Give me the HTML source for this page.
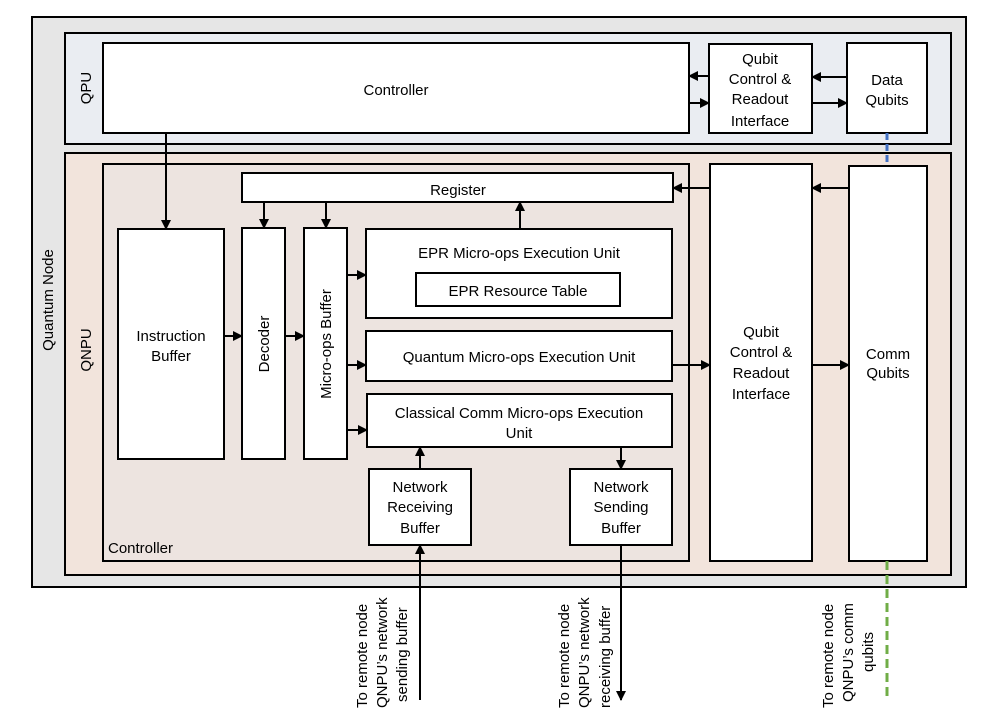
<!DOCTYPE html>
<html><head><meta charset="utf-8"><style>
html,body{margin:0;padding:0;background:#fff;}
svg{display:block;}
text{font-family:"Liberation Sans",sans-serif;font-size:15px;fill:#000;}
</style></head><body>
<svg width="997" height="721" viewBox="0 0 997 721" xmlns="http://www.w3.org/2000/svg">
<defs>
<marker id="a" markerWidth="10" markerHeight="10" refX="9" refY="5" orient="auto" markerUnits="userSpaceOnUse">
<path d="M0,0 L10,5 L0,10 z" fill="#000"/></marker>
</defs>
<g stroke="#000" stroke-width="2">
<rect x="32" y="17" width="934" height="570" fill="#e6e6e6"/>
<rect x="65" y="33" width="886" height="111" fill="#eaedf2"/>
<rect x="65" y="153" width="886" height="422" fill="#f2e4dc"/>
<rect x="103" y="43" width="586" height="90" fill="#fff"/>
<rect x="709" y="44" width="103" height="89" fill="#fff"/>
<rect x="847" y="43" width="80" height="90" fill="#fff"/>
<rect x="103" y="164" width="586" height="397" fill="#ede4e0"/>
<rect x="242" y="173" width="431" height="29" fill="#fff"/>
<rect x="710" y="164" width="102" height="397" fill="#fff"/>
<rect x="849" y="166" width="78" height="395" fill="#fff"/>
<rect x="118" y="229" width="106" height="230" fill="#fff"/>
<rect x="242" y="228" width="43" height="231" fill="#fff"/>
<rect x="304" y="228" width="43" height="231" fill="#fff"/>
<rect x="366" y="229" width="306" height="89" fill="#fff"/>
<rect x="416" y="273" width="204" height="33" fill="#fff"/>
<rect x="366" y="331" width="306" height="50" fill="#fff"/>
<rect x="367" y="394" width="305" height="53" fill="#fff"/>
<rect x="369" y="469" width="102" height="76" fill="#fff"/>
<rect x="570" y="469" width="102" height="76" fill="#fff"/>
</g>
<g stroke="#000" stroke-width="2" fill="none" marker-end="url(#a)">
<line x1="166" y1="133" x2="166" y2="229"/>
<line x1="264" y1="202" x2="264" y2="228"/>
<line x1="326" y1="202" x2="326" y2="228"/>
<line x1="520" y1="229" x2="520" y2="202"/>
<line x1="224" y1="336" x2="242" y2="336"/>
<line x1="285" y1="336" x2="304" y2="336"/>
<line x1="347" y1="275" x2="366" y2="275"/>
<line x1="347" y1="365" x2="366" y2="365"/>
<line x1="347" y1="430" x2="367" y2="430"/>
<line x1="672" y1="365" x2="710" y2="365"/>
<line x1="812" y1="365" x2="849" y2="365"/>
<line x1="710" y1="188" x2="673" y2="188"/>
<line x1="849" y1="188" x2="812" y2="188"/>
<line x1="709" y1="76" x2="689" y2="76"/>
<line x1="689" y1="103" x2="709" y2="103"/>
<line x1="847" y1="77" x2="812" y2="77"/>
<line x1="812" y1="103" x2="847" y2="103"/>
<line x1="621" y1="447" x2="621" y2="469"/>
<line x1="420" y1="469" x2="420" y2="447"/>
<line x1="420" y1="700" x2="420" y2="545"/>
<line x1="621" y1="545" x2="621" y2="700"/>
</g>
<line x1="887" y1="133" x2="887" y2="166" stroke="#4472c4" stroke-width="3" stroke-dasharray="7,4"/>
<line x1="887" y1="561" x2="887" y2="700" stroke="#70ad47" stroke-width="3" stroke-dasharray="9,5"/>
<g text-anchor="middle">
<text x="396" y="95">Controller</text>
<text x="760" y="64">Qubit</text>
<text x="760" y="84">Control &amp;</text>
<text x="760" y="104">Readout</text>
<text x="760" y="126">Interface</text>
<text x="887" y="85">Data</text>
<text x="887" y="105">Qubits</text>
<text x="458" y="195">Register</text>
<text x="519" y="258">EPR Micro-ops Execution Unit</text>
<text x="518" y="296">EPR Resource Table</text>
<text x="519" y="362">Quantum Micro-ops Execution Unit</text>
<text x="519" y="418">Classical Comm Micro-ops Execution</text>
<text x="519" y="438">Unit</text>
<text x="171" y="341">Instruction</text>
<text x="171" y="361">Buffer</text>
<text x="420" y="492">Network</text>
<text x="420" y="512">Receiving</text>
<text x="420" y="533">Buffer</text>
<text x="621" y="492">Network</text>
<text x="621" y="512">Sending</text>
<text x="621" y="533">Buffer</text>
<text x="761" y="337">Qubit</text>
<text x="761" y="357">Control &amp;</text>
<text x="761" y="378">Readout</text>
<text x="761" y="399">Interface</text>
<text x="888" y="359">Comm</text>
<text x="888" y="378">Qubits</text>
<text transform="translate(269,344) rotate(-90)">Decoder</text>
<text transform="translate(331,344) rotate(-90)">Micro-ops Buffer</text>
<text transform="translate(53,300) rotate(-90)">Quantum Node</text>
<text transform="translate(91,88) rotate(-90)">QPU</text>
<text transform="translate(91,350) rotate(-90)">QNPU</text>
</g>
<text x="108" y="553">Controller</text>
<g text-anchor="start">
<text transform="translate(367,708) rotate(-90)">To remote node</text>
<text transform="translate(387,708) rotate(-90)">QNPU’s network</text>
<text transform="translate(407,702) rotate(-90)">sending buffer</text>
<text transform="translate(569,708) rotate(-90)">To remote node</text>
<text transform="translate(589,708) rotate(-90)">QNPU’s network</text>
<text transform="translate(610,708) rotate(-90)">receiving buffer</text>
<text transform="translate(833,708) rotate(-90)">To remote node</text>
<text transform="translate(853,702) rotate(-90)">QNPU’s comm</text>
<text transform="translate(873,672) rotate(-90)">qubits</text>
</g>
</svg>
</body></html>
